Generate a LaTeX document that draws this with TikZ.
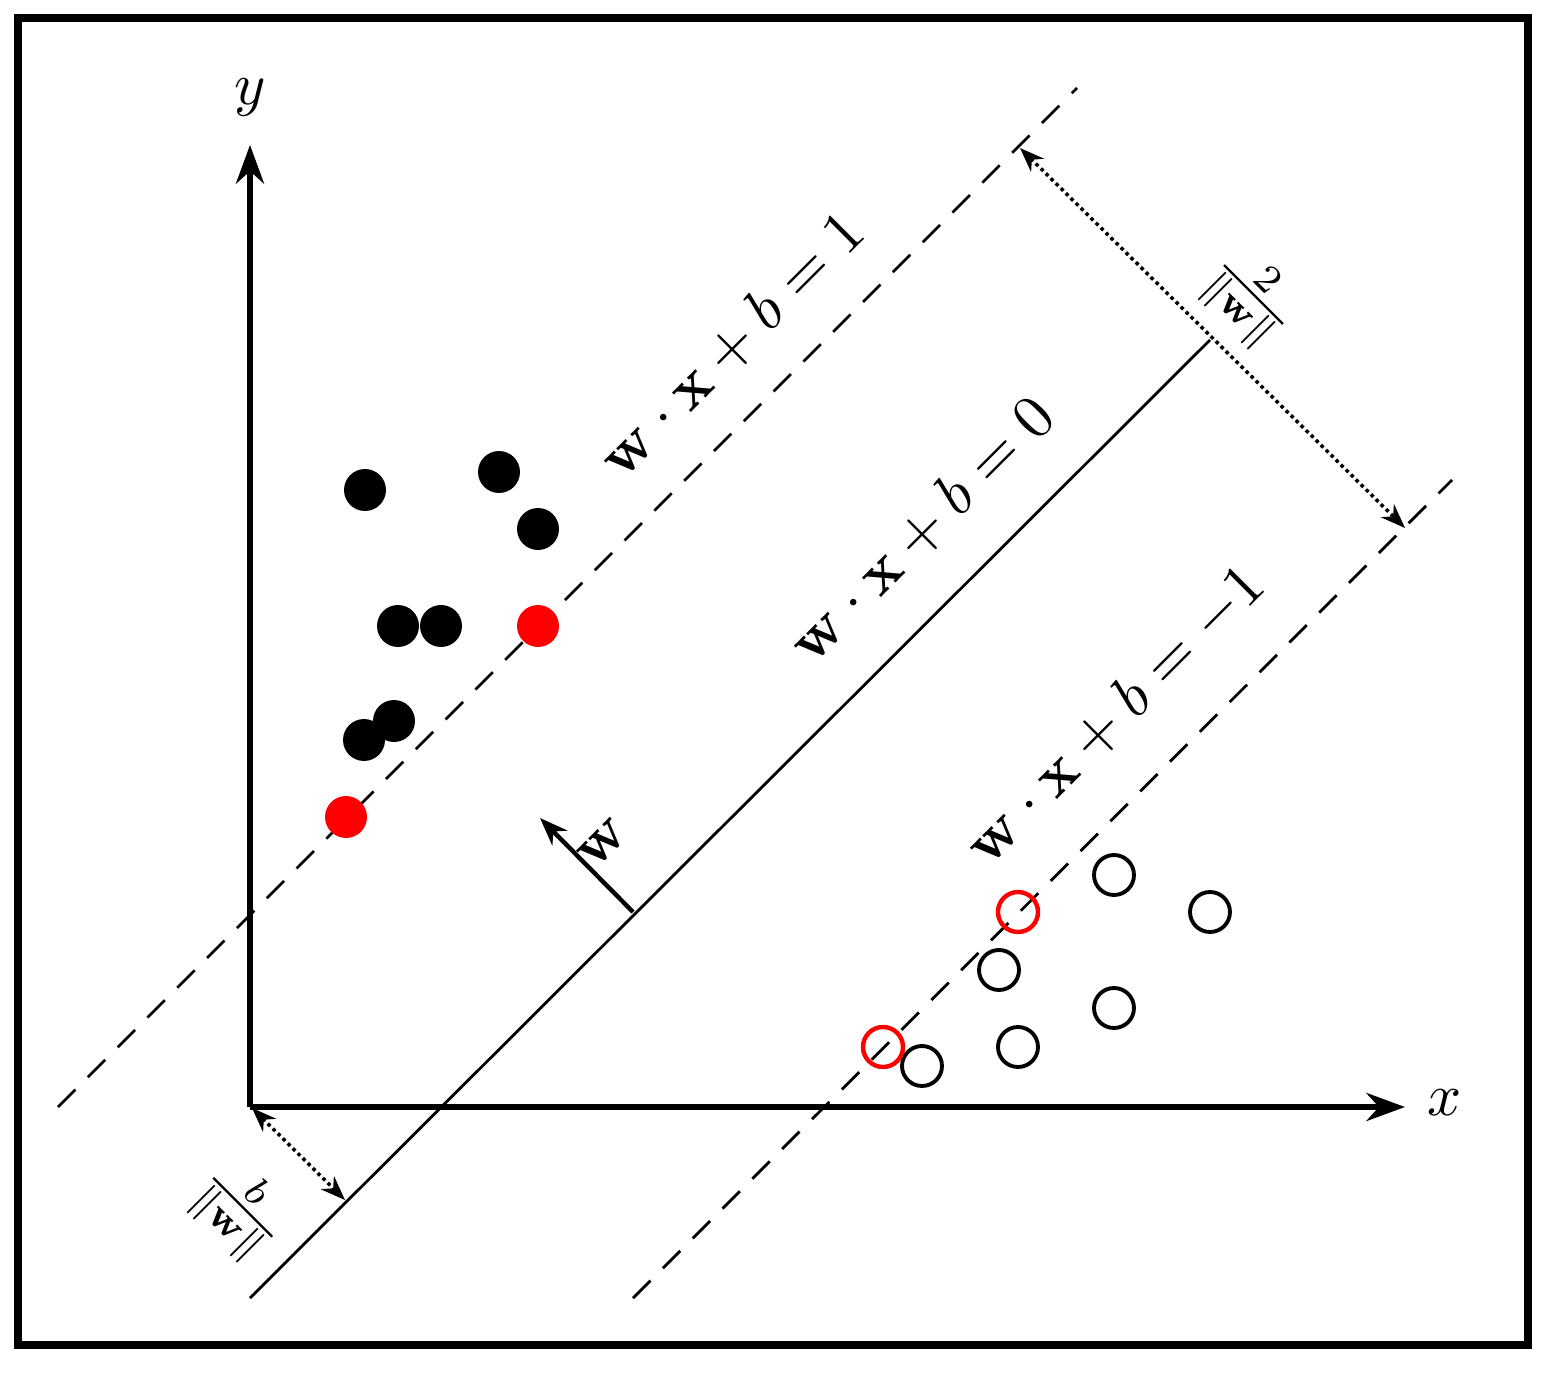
\documentclass[tikz,border=0pt]{standalone}
\usetikzlibrary{arrows.meta}
\begin{document}
\begin{tikzpicture}[x=0.02cm,y=-0.02cm,
  ax/.style={line width=3pt,-{Stealth[length=22pt,width=16pt]}},
  dashln/.style={line width=1.6pt,dash pattern=on 14pt off 10pt},
  dotln/.style={line width=2pt,dotted,{Stealth[length=14pt]}-{Stealth[length=14pt]}},
  bp/.style={circle,fill=black,minimum size=0.84cm,inner sep=0},
  rp/.style={circle,fill=red,minimum size=0.84cm,inner sep=0},
  op/.style={circle,draw=black,line width=2.2pt,minimum size=0.8cm,inner sep=0},
  orp/.style={circle,draw=red,line width=2.5pt,minimum size=0.8cm,inner sep=0},
  lab/.style={scale=3.5,rotate=45},
  frac/.style={scale=3.2,rotate=-45}]
\useasboundingbox (0,0) rectangle (1553,1389);
\draw[line width=4pt] (18,18) rectangle (1528,1345);
\coordinate (O) at (250,1107);
\coordinate (Y) at (250,145);
\coordinate (X) at (1405,1107);
\draw[ax] (O) -- (Y);
\draw[ax] (O) -- (X);
\node[scale=3.4] (yl) at (250,97) {$y$};
\node[scale=3.4] (xl) at (1445,1103) {$x$};
\coordinate (s1) at (250,1298); \coordinate (s2) at (1210,340);
\draw[line width=1.6pt] (s1) -- (s2);
\coordinate (u1) at (58,1107); \coordinate (u2) at (1077,88);
\draw[dashln] (u1) -- (u2);
\coordinate (l1) at (633,1298); \coordinate (l2) at (1452,480);
\draw[dashln] (l1) -- (l2);
\coordinate (d1) at (1020,148); \coordinate (d2) at (1405,528);
\draw[dotln] (d1) -- (d2);
\coordinate (e1) at (252,1108); \coordinate (e2) at (345,1200);
\draw[dotln] (e1) -- (e2);
\coordinate (w0) at (633,912); \coordinate (w1) at (540,818);
\draw[line width=2.5pt,-{Stealth[length=16pt,width=12pt]}] (w0) -- (w1);
\node[lab] (wl) at (603,843) {$\mathbf{w}$};
\node[lab] (L1) at (732,345) {$\mathbf{w}\cdot\mathbf{x}+b=1$};
\node[lab] (L0) at (922,530) {$\mathbf{w}\cdot\mathbf{x}+b=0$};
\node[lab] (Lm) at (1115,715) {$\mathbf{w}\cdot\mathbf{x}+b=-1$};
\node[frac] (m2) at (1250,298) {$\frac{2}{\|\mathbf{w}\|}$};
\node[frac] (mb) at (240,1210) {$\frac{b}{\|\mathbf{w}\|}$};
\foreach \n/\p in {a/{(365,490)},b/{(499,472)},c/{(538,529)},d/{(398,626)},e/{(441,626)},f/{(394,721)},g/{(364,740)}}
  \node[bp] (\n) at \p {};
\node[rp] (r1) at (538,626) {};
\node[rp] (r2) at (346,817) {};
\foreach \n/\p in {o1/{(1114,875)},o2/{(1210,912)},o3/{(999,970)},o4/{(1114,1008)},o5/{(1018,1047)},o6/{(922,1066)}}
  \node[op] (\n) at \p {};
\node[orp] (q1) at (1018,912) {};
\node[orp] (q2) at (883,1047) {};
\end{tikzpicture}
\end{document}
